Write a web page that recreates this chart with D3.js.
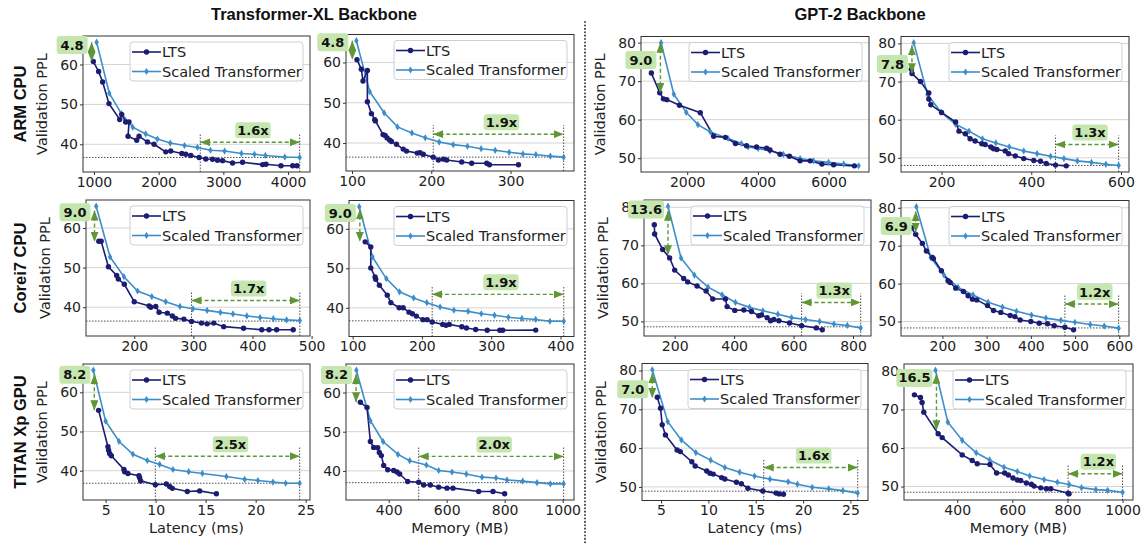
<!DOCTYPE html>
<html><head><meta charset="utf-8">
<script src="https://cdn.jsdelivr.net/npm/d3@7"></script>
<style>body{margin:0;background:#fff}svg{display:block}</style>
</head><body>
<svg id="chart" width="1144" height="544"></svg>
<script>
// ---------------- DATA ----------------
const rowNames = ["ARM CPU", "Corei7 CPU", "TITAN Xp GPU"];
const backbones = ["Transformer-XL Backbone", "GPT-2 Backbone"];
const seriesNames = ["LTS", "Scaled Transformer"];
const txlYTicks = [40, 50, 60];
const gptYTicks = [50, 60, 70, 80];

// ARM CPU
const armTxlLatLTS = [[990,60.75],[1072,58.25],[1134,55.6],[1232,50.2],[1398,46.2],[1428,47.5],[1490,45.6],[1542,45.6],[1527,42],[1661,41],[1697,42],[1826,40.6],[1929,40],[2110,38.1],[2187,38.3],[2358,37.7],[2420,37.5],[2497,37.2],[2626,36.7],[2729,36.3],[2833,36.25],[2910,36],[2988,35.9],[3142,35.3],[3297,35.5],[3607,34.9],[3659,35],[3891,34.6],[4072,34.6],[4139,34.6]];
const armTxlLatScaled = [[1041,65.6],[1237,52.8],[1423,47.7],[1599,44.3],[1800,42.6],[1980,41.3],[2180,40.3],[2400,39.7],[2600,39.2],[2800,38.5],[3020,38.3],[3280,37.7],[3480,37.5],[3650,37.2],[3950,36.8],[4180,36.7]];
const armTxlLatTicks = [1000, 2000, 3000, 4000];

const armTxlMemLTS = [[106.3,60.7],[111.8,58.3],[113.9,55.4],[119.4,58],[119.4,50.25],[124.5,47.3],[128.7,45.8],[129.5,45.5],[139.2,42.1],[141.8,41.9],[144.3,41.25],[147.7,40.7],[149.8,40.4],[156.1,39.7],[164.6,38.5],[168.8,38],[182.3,37.5],[185.7,37.6],[189.9,37.2],[202.5,36.5],[208.9,35.8],[215.2,36],[219.4,35.8],[238.4,35.3],[251,35],[270,35],[273.4,34.6],[310,34.6]];
const armTxlMemScaled = [[105.5,65.4],[122.4,52.75],[140.5,47.5],[157.4,44],[175.5,42.5],[192.4,41.3],[210,40.25],[227.8,39.6],[245.6,39.2],[262.9,38.6],[280.6,38.2],[298.3,37.7],[315.6,37.3],[332,37.1],[350.2,36.75],[367,36.5]];
const armTxlMemTicks = [100, 200, 300];

const armGptLatLTS = [[986,72.1],[1223,67],[1327,65.4],[1422,65.2],[1782,63.75],[2370,61.8],[2749,55.7],[3081,55.4],[3365,53.8],[3678,53.2],[3962,52.9],[4246,52.6],[4341,52.1],[4626,51.0],[4891,50.5],[5194,49.3],[5479,49.3],[5810,48.45],[6142,48.3],[6730,48.0]];
const armGptLatScaled = [[1261,80],[1621,66.6],[1972,61.9],[2303,58.7],[2654,56.8],[3156,55.1],[3535,53.8],[3725,52.9],[4009,52.5],[4341,51.9],[4720,51.0],[5194,49.9],[5573,49.3],[5999,48.9],[6427,48.45],[6850,48.0]];
const armGptLatTicks = [2000, 4000, 6000];

const armGptMemLTS = [[132.7,73.2],[134.2,72.1],[152.9,70],[171.6,67],[171.6,65.4],[176,63.9],[200,61.9],[231.4,59.4],[238.9,57],[253,56.3],[263.6,55],[274.8,54.4],[289.7,53.7],[297.2,53.5],[309.9,52.85],[315.9,52.4],[323.4,52.2],[342,51.8],[349.5,51.1],[364.5,50.5],[383.2,49.8],[405.6,49.3],[420.6,49.1],[433.3,48.5],[454.2,48.1],[478,47.9]];
const armGptMemScaled = [[138,80.2],[168.6,66.6],[198.5,62],[231.4,58.8],[261.3,57],[291.2,55],[321,53.9],[351,52.85],[383.2,51.8],[413,51.1],[443,50.4],[472.9,49.8],[502.8,49.2],[534.2,48.8],[566.4,48.3],[594.8,48.0]];
const armGptMemTicks = [200, 400, 600];

// Core i7 CPU
const i7TxlLatLTS = [[140,56.65],[144,56.65],[156.3,50.2],[170.3,48],[173.1,47.1],[183.2,45.8],[200,41.4],[225.2,40.3],[228,40],[236.4,40.2],[242,38.75],[256,38.5],[264.4,37.8],[270,37.2],[284,37],[296.9,36.4],[313.7,36],[323.2,35.8],[334.5,36],[351.3,35.1],[384.9,34.7],[415.7,34.3],[428,34.3],[440.9,34.3],[468.9,34.3]];
const i7TxlLatScaled = [[135.6,65.5],[159.1,52.7],[182.6,47.7],[205.6,44.1],[229.7,42.7],[253.2,41.4],[277.3,40.2],[299.2,39.6],[323.2,39.2],[345.7,38.7],[367,38.3],[390.5,37.8],[412.9,37.4],[435.3,37.1],[457.7,36.8],[480.1,36.65]];
const i7TxlLatTicks = [200, 300, 400, 500];

const i7TxlMemLTS = [[118.1,56.7],[126.2,55.4],[126.2,50.1],[132.4,47.8],[133.3,47.2],[138.6,45.7],[150,43.2],[155.2,41.3],[167.1,40],[172.9,40],[181.4,38.9],[186.2,38.5],[191.9,37.9],[201.4,37],[207.6,37],[214.8,36.4],[230,35.8],[234.8,35.6],[239.5,35.8],[257.6,35.2],[264.3,34.9],[277.6,34.5],[294.3,34.3],[312.4,34.3],[316.7,34.3],[364.3,34.35]];
const i7TxlMemScaled = [[109.5,65.6],[128.6,52.9],[148.6,47.4],[167.6,44.05],[188.1,42.5],[207.1,41.3],[226.2,40.2],[246.2,39.4],[266.7,39.1],[285.7,38.5],[304.8,38.1],[324.8,37.6],[344.3,37.3],[364.3,37.05],[384.8,36.6],[404.8,36.6]];
const i7TxlMemTicks = [100, 200, 300, 400];

const i7GptLatLTS = [[131.5,75.4],[132.6,73],[159.6,68.9],[183.1,66.7],[200,63.5],[230.3,61.3],[243.8,60.4],[275.3,59.3],[305.6,58],[328.1,55.9],[370.8,55.9],[376.4,53.9],[402.2,52.9],[432.6,53],[458.4,52.6],[483.1,51.5],[492.1,51.7],[511.2,51],[522.5,50.2],[533.7,50.5],[550.6,50.2],[586.5,49.6],[627,48.9],[676.4,48.3],[696.6,47.8]];
const i7GptLatScaled = [[177.5,80.3],[221.3,66.7],[266.3,62.2],[312.4,59],[359.6,57],[404.5,55],[451.7,53.7],[496.6,52.8],[547.2,51.9],[593.3,51.0],[640.4,50.5],[687.6,50],[735.9,49.3],[780.9,48.95],[825.8,48.3]];
const i7GptLatTicks = [200, 400, 600, 800];

const i7GptMemLTS = [[129.8,74.75],[139.6,73],[154.7,70.6],[163.8,68.6],[177.4,66.9],[179.6,66.6],[197.7,63.4],[212.8,60.75],[217.4,60.3],[230.2,58.8],[247.5,57.9],[258.1,56.8],[267.9,55.9],[277.7,55.7],[301.9,54.2],[315.5,52.9],[332.1,52.4],[353.2,51.6],[363.8,51.3],[375.8,50.4],[400,50],[418.9,49.55],[437.7,49.4],[452.8,48.9],[477,48.5],[496.6,47.8]];
const i7GptMemScaled = [[141.1,80.3],[173.6,66.9],[203.8,62.2],[235.5,59],[269.4,57],[303.4,55.1],[335.8,53.8],[367.5,52.7],[401.5,51.7],[434,50.9],[467.9,50.3],[499.6,49.8],[534.3,49.2],[566,48.8],[598.5,48.25]];
const i7GptMemTicks = [200, 300, 400, 500, 600];

// TITAN Xp GPU
const gpuTxlLatLTS = [[4.3,55.4],[5.23,46.1],[5.3,45.2],[5.4,44.4],[5.57,43.8],[6.83,40.3],[6.9,39.75],[7.23,39.3],[8.33,38.7],[8.4,38.2],[8.5,37.4],[9.97,36.4],[11.07,36.6],[11.4,35.95],[11.67,35.5],[13.17,34.7],[14.4,34.85],[16.07,34.1]];
const gpuTxlLatScaled = [[3.77,65.65],[5.0,52.65],[6.33,47.5],[7.73,44.2],[9.17,42.6],[10.4,41.6],[11.73,40.3],[13.3,39.75],[14.67,39.3],[17.07,38.5],[18.9,37.8],[20.23,37.5],[21.73,37.1],[23,36.8],[24.4,36.8]];
const gpuTxlLatTicks = [5, 10, 15, 20, 25];

const gpuTxlMemLTS = [[302.3,57.5],[325.3,56.2],[336.8,47.5],[348.3,46],[362.1,45.9],[367.8,44.7],[374.7,43.9],[382.8,41.4],[396.6,40.3],[417.2,40.1],[428.7,39.7],[437.9,39.2],[465.5,37.3],[503.4,37.1],[520.7,36.4],[543.7,36.4],[572.4,35.85],[601.1,35.6],[621.8,35.6],[710.3,34.75],[759.8,34.75],[800,34.15]];
const gpuTxlMemScaled = [[288.5,65.7],[336.8,52.8],[380.5,47.5],[432.2,44.2],[472.4,42.6],[529.9,41.5],[572.4,40.1],[618.4,39.7],[667.8,39.2],[721.8,38.4],[770.1,38.2],[808,37.7],[862.1,37.4],[911.5,37.0],[957.5,36.7],[1003.4,36.7]];
const gpuTxlMemTicks = [400, 600, 800, 1000];

const gpuGptLatLTS = [[4.6,73.1],[4.94,70.3],[5.12,66],[5.46,63.4],[6.69,59.5],[7.03,59.1],[8.25,56.5],[8.6,55.4],[9.82,54.1],[10.16,53.5],[10.51,53.3],[11.39,52.4],[11.73,52.05],[12.96,51.2],[13.48,50.8],[14.17,49.65],[15.74,48.96],[17.15,48.4],[17.48,48.2],[17.93,48.1]];
const gpuGptLatScaled = [[4.07,80.2],[5.7,66.8],[7.14,62.1],[8.67,58.85],[10.24,56.9],[11.73,55],[13.3,53.8],[14.87,52.8],[16.5,52],[18.42,51.3],[19.4,50.7],[20.96,49.9],[22.7,49.5],[24.2,49.05],[25.77,48.4]];
const gpuGptLatTicks = [5, 10, 15, 20, 25];

const gpuGptMemLTS = [[244.8,73.8],[266.7,73.1],[272.7,71.8],[278.8,69.3],[330.9,63.7],[345.5,62.7],[418.2,58.2],[454.5,56.75],[472.7,55.9],[518.8,55.7],[543,53.5],[572.1,53.5],[585.5,53],[602.4,52.2],[618.2,51.7],[630.3,51.55],[650.9,50.9],[669.1,50.6],[678.8,50.1],[703,49.65],[723.6,49.4],[739.4,49.4],[802.4,48.25],[806,48.1]];
const gpuGptMemScaled = [[321.2,80.2],[366.1,66.7],[418.2,62],[469.1,58.75],[517.6,56.9],[569.7,55],[618.2,53.9],[663,52.7],[715.2,51.8],[763.6,51.1],[806,50.5],[850.9,49.7],[903,49.2],[945.5,49],[1000,48.5]];
const gpuGptMemTicks = [400, 600, 800, 1000];

// Annotations: PPL gap (x, top PPL, bottom PPL, label PPL) and speed-up (x1, x2, arrow PPL, matched PPL)
const gapLabels = ["4.8","4.8","9.0","7.8","9.0","9.0","13.6","6.9","8.2","8.2","7.0","16.5"];
const gapArrows = [[964,65.6,60.75,64.9],[100.4,65.4,60.7,65],[1242,80,67,75.5],[134,79.5,72.2,74.6],
                   [132.8,64.4,56.5,64],[110.4,64.9,56.7,64],[177.5,79.1,67.4,79.4],[139.6,79.1,73.4,75.2],
                   [3.87,64.6,55.4,64.5],[287.4,64.7,57.5,64.5],[4.07,79.3,72.9,75.2],[324.8,79.3,64.6,78.2]];
const speedLabels = ["1.6x","1.9x",null,"1.3x","1.7x","1.9x","1.3x","1.2x","2.5x","2.0x","1.6x","1.2x"];
const speedArrows = [[2643,4180,40.5,36.7],[202.5,367,42.2,36.5],null,[454,594.8,53.5,48.0],
                     [296.9,480.1,41.7,36.5],[214.8,404.8,43.4,36.7],[627,825.8,55.0,48.6],[477,598.5,54.6,48.3],
                     [9.97,24.4,43.7,36.8],[503.4,1003.4,43.7,37.0],[15.84,25.77,55,48.9],[802.4,1000,53.3,48.5]];
const xLabels = ["Latency (ms)", "Memory (MB)"];

// ---------------- LAYOUT ----------------
const layout = [
  {l:83,r:310,t:36,b:172},{l:346,r:574,t:34.5,b:171},{l:641,r:869,t:36.5,b:172},{l:901,r:1129,t:36.5,b:172},
  {l:86,r:310,t:200,b:336},{l:349,r:574,t:200.5,b:336.5},{l:644,r:871,t:200,b:336},{l:901,r:1129,t:200.5,b:336},
  {l:83,r:310,t:364,b:500},{l:346,r:574,t:364,b:500},{l:642,r:868,t:363.5,b:500.5},{l:904,r:1133,t:364,b:500}
];
const panelSeries = [
  [armTxlLatLTS, armTxlLatScaled, armTxlLatTicks],[armTxlMemLTS, armTxlMemScaled, armTxlMemTicks],
  [armGptLatLTS, armGptLatScaled, armGptLatTicks],[armGptMemLTS, armGptMemScaled, armGptMemTicks],
  [i7TxlLatLTS, i7TxlLatScaled, i7TxlLatTicks],[i7TxlMemLTS, i7TxlMemScaled, i7TxlMemTicks],
  [i7GptLatLTS, i7GptLatScaled, i7GptLatTicks],[i7GptMemLTS, i7GptMemScaled, i7GptMemTicks],
  [gpuTxlLatLTS, gpuTxlLatScaled, gpuTxlLatTicks],[gpuTxlMemLTS, gpuTxlMemScaled, gpuTxlMemTicks],
  [gpuGptLatLTS, gpuGptLatScaled, gpuGptLatTicks],[gpuGptMemLTS, gpuGptMemScaled, gpuGptMemTicks]
];

const C_LTS = "#1c1c72", C_SC = "#3b8ec9", C_ANN = "#5f9636", C_BOX = "#c6e6b0";
const FONT = "DejaVu Sans";
const svg = d3.select("#chart");
const defs = svg.append("defs");
defs.append("marker").attr("id","ah").attr("viewBox","0 0 10 8").attr("refX",10).attr("refY",4)
  .attr("markerWidth",10).attr("markerHeight",8).attr("markerUnits","userSpaceOnUse").attr("orient","auto-start-reverse")
  .append("path").attr("d","M0,0L10,4L0,8Z").attr("fill",C_ANN);

// titles
svg.append("text").attr("x",314).attr("y",20).attr("text-anchor","middle").attr("font-family","Liberation Sans")
  .attr("font-weight","bold").attr("font-size",16.5).attr("fill","#111").text(backbones[0]);
svg.append("text").attr("x",860).attr("y",20).attr("text-anchor","middle").attr("font-family","Liberation Sans")
  .attr("font-weight","bold").attr("font-size",16.5).attr("fill","#111").text(backbones[1]);
// separator
svg.append("line").attr("x1",585).attr("x2",585).attr("y1",22).attr("y2",544).attr("stroke","#444")
  .attr("stroke-width",2).attr("stroke-linecap","round").attr("stroke-dasharray","0.1,3.3");
// row labels
const rowCenters = [104, 268, 432];
rowNames.forEach((n,i)=>{
  svg.append("text").attr("transform",`translate(26,${rowCenters[i]}) rotate(-90)`).attr("text-anchor","middle")
    .attr("font-family","Liberation Sans").attr("font-weight","bold").attr("font-size",16.5).attr("fill","#111").text(n);
});

const diamond = "M0,-3.6L2.2,0L0,3.6L-2.2,0Z";

panelSeries.forEach((ps, i) => {
  const L = layout[i], row = Math.floor(i/4), col = i%4;
  const [lts, sc, xt] = ps;
  const yt = (col < 2) ? txlYTicks : gptYTicks;
  const all = lts.concat(sc);
  const xe = d3.extent(all, d=>d[0]), ye = d3.extent(all, d=>d[1]);
  const xm = (xe[1]-xe[0])*0.05, ym = (ye[1]-ye[0])*0.05;
  const x = d3.scaleLinear().domain([xe[0]-xm, xe[1]+xm]).range([L.l, L.r]);
  const y = d3.scaleLinear().domain([ye[0]-ym, ye[1]+ym]).range([L.b, L.t]);
  const g = svg.append("g");

  // grid
  g.selectAll("line.grid").data(yt).join("line").attr("class","grid")
    .attr("x1",L.l).attr("x2",L.r).attr("y1",d=>y(d)).attr("y2",d=>y(d))
    .attr("stroke","#d4d4d4").attr("stroke-width",1);

  // axes
  const xa = g.append("g").attr("transform",`translate(0,${L.b})`)
    .call(d3.axisBottom(x).tickValues(xt).tickSize(3).tickPadding(2).tickFormat(d3.format("d")));
  const ya = g.append("g").attr("transform",`translate(${L.l},0)`)
    .call(d3.axisLeft(y).tickValues(yt).tickSize(3).tickPadding(2).tickFormat(d3.format("d")));
  [xa, ya].forEach(a => {
    a.select(".domain").remove();
    a.selectAll("line").attr("stroke","#333");
    a.selectAll("text").attr("font-family",FONT).attr("font-size",14).attr("fill","#222");
  });

  // annotations (dotted helper lines)
  const sp = speedArrows[i];
  if (sp) {
    const [x1,x2,yA,yl] = sp;
    g.append("line").attr("x1",L.l).attr("x2",x(x2)).attr("y1",y(yl)).attr("y2",y(yl))
      .attr("stroke","#222").attr("stroke-width",0.8).attr("stroke-dasharray","1.5,1.5");
    [x1,x2].forEach(v => g.append("line").attr("x1",x(v)).attr("x2",x(v)).attr("y1",L.b).attr("y2",y(yA)-9)
      .attr("stroke","#222").attr("stroke-width",0.8).attr("stroke-dasharray","1.5,1.5"));
  }

  // series
  const line = d3.line().x(d=>x(d[0])).y(d=>y(d[1]));
  g.append("path").datum(sc).attr("d",line).attr("fill","none").attr("stroke",C_SC).attr("stroke-width",1.6);
  g.append("path").datum(lts).attr("d",line).attr("fill","none").attr("stroke",C_LTS).attr("stroke-width",1.6);
  g.selectAll("path.msc").data(sc).join("path").attr("class","msc").attr("d",diamond)
    .attr("transform",d=>`translate(${x(d[0])},${y(d[1])})`).attr("fill",C_SC);
  g.selectAll("circle.mlts").data(lts).join("circle").attr("class","mlts")
    .attr("cx",d=>x(d[0])).attr("cy",d=>y(d[1])).attr("r",2.7).attr("fill",C_LTS);

  // frame
  g.append("rect").attr("x",L.l).attr("y",L.t).attr("width",L.r-L.l).attr("height",L.b-L.t)
    .attr("fill","none").attr("stroke","#333").attr("stroke-width",1);

  // labels
  if (col === 0 || col === 2) {
    g.append("text").attr("transform",`translate(${L.l-36},${(L.t+L.b)/2}) rotate(-90)`).attr("text-anchor","middle")
      .attr("font-family",FONT).attr("font-size",14.5).attr("fill","#222").text("Validation PPL");
  }
  if (row === 2) {
    g.append("text").attr("x",(L.l+L.r)/2).attr("y",533).attr("text-anchor","middle")
      .attr("font-family",FONT).attr("font-size",14.5).attr("fill","#222").text(xLabels[col%2]);
  }

  // legend
  const bw = 173, bh = 39, bx = L.r - 7 - bw, by = L.t + 6;
  const lg = g.append("g");
  lg.append("rect").attr("x",bx).attr("y",by).attr("width",bw).attr("height",bh).attr("rx",3)
    .attr("fill","#fff").attr("fill-opacity",0.8).attr("stroke","#cfcfcf").attr("stroke-width",1);
  [[C_LTS,"c"],[C_SC,"d"]].forEach((s,k)=>{
    const yy = by + 10 + k*19.5;
    lg.append("line").attr("x1",bx+2).attr("x2",bx+31).attr("y1",yy).attr("y2",yy).attr("stroke",s[0]).attr("stroke-width",1.6);
    if (s[1]==="c") lg.append("circle").attr("cx",bx+16.5).attr("cy",yy).attr("r",2.7).attr("fill",s[0]);
    else lg.append("path").attr("d",diamond).attr("transform",`translate(${bx+16.5},${yy})`).attr("fill",s[0]);
    lg.append("text").attr("x",bx+32).attr("y",yy+5.2).attr("font-family",FONT).attr("font-size",14.5)
      .attr("fill","#222").text(seriesNames[k]);
  });

  // speed-up arrow
  if (sp) {
    const [x1,x2,yA] = sp;
    g.append("line").attr("x1",x(x1)).attr("x2",x(x2)).attr("y1",y(yA)).attr("y2",y(yA))
      .attr("stroke",C_ANN).attr("stroke-width",1.4).attr("stroke-dasharray","4,2.5")
      .attr("marker-start","url(#ah)").attr("marker-end","url(#ah)");
    const cx = (x(x1)+x(x2))/2 + 3, cy = y(yA) - 12;
    const t = g.append("text").attr("x",cx).attr("y",cy+4.6).attr("text-anchor","middle")
      .attr("font-family",FONT).attr("font-weight","bold").attr("font-size",13).attr("fill","#111").text(speedLabels[i]);
    const w = Math.max(30, t.node().getComputedTextLength()+4);
    g.insert("rect", () => t.node()).attr("x",cx-w/2).attr("y",cy-8).attr("width",w).attr("height",16).attr("rx",3).attr("fill",C_BOX);
  }
  // gap arrow
  const ga = gapArrows[i];
  {
    const [gx,yT,yB,yL] = ga;
    g.append("line").attr("x1",x(gx)).attr("x2",x(gx)).attr("y1",y(yT)).attr("y2",y(yB))
      .attr("stroke",C_ANN).attr("stroke-width",1.4).attr("stroke-dasharray","4,2.5")
      .attr("marker-start","url(#ah)").attr("marker-end","url(#ah)");
    const rx = x(gx) - 4, cy = y(yL);
    const t = g.append("text").attr("x",0).attr("y",cy+4.6).attr("text-anchor","middle")
      .attr("font-family",FONT).attr("font-weight","bold").attr("font-size",13).attr("fill","#111").text(gapLabels[i]);
    const w = Math.max(31, t.node().getComputedTextLength()+4);
    t.attr("x", rx - w/2);
    g.insert("rect", () => t.node()).attr("x",rx-w).attr("y",cy-9).attr("width",w).attr("height",18).attr("rx",3).attr("fill",C_BOX);
  }
});
</script>
</body></html>
